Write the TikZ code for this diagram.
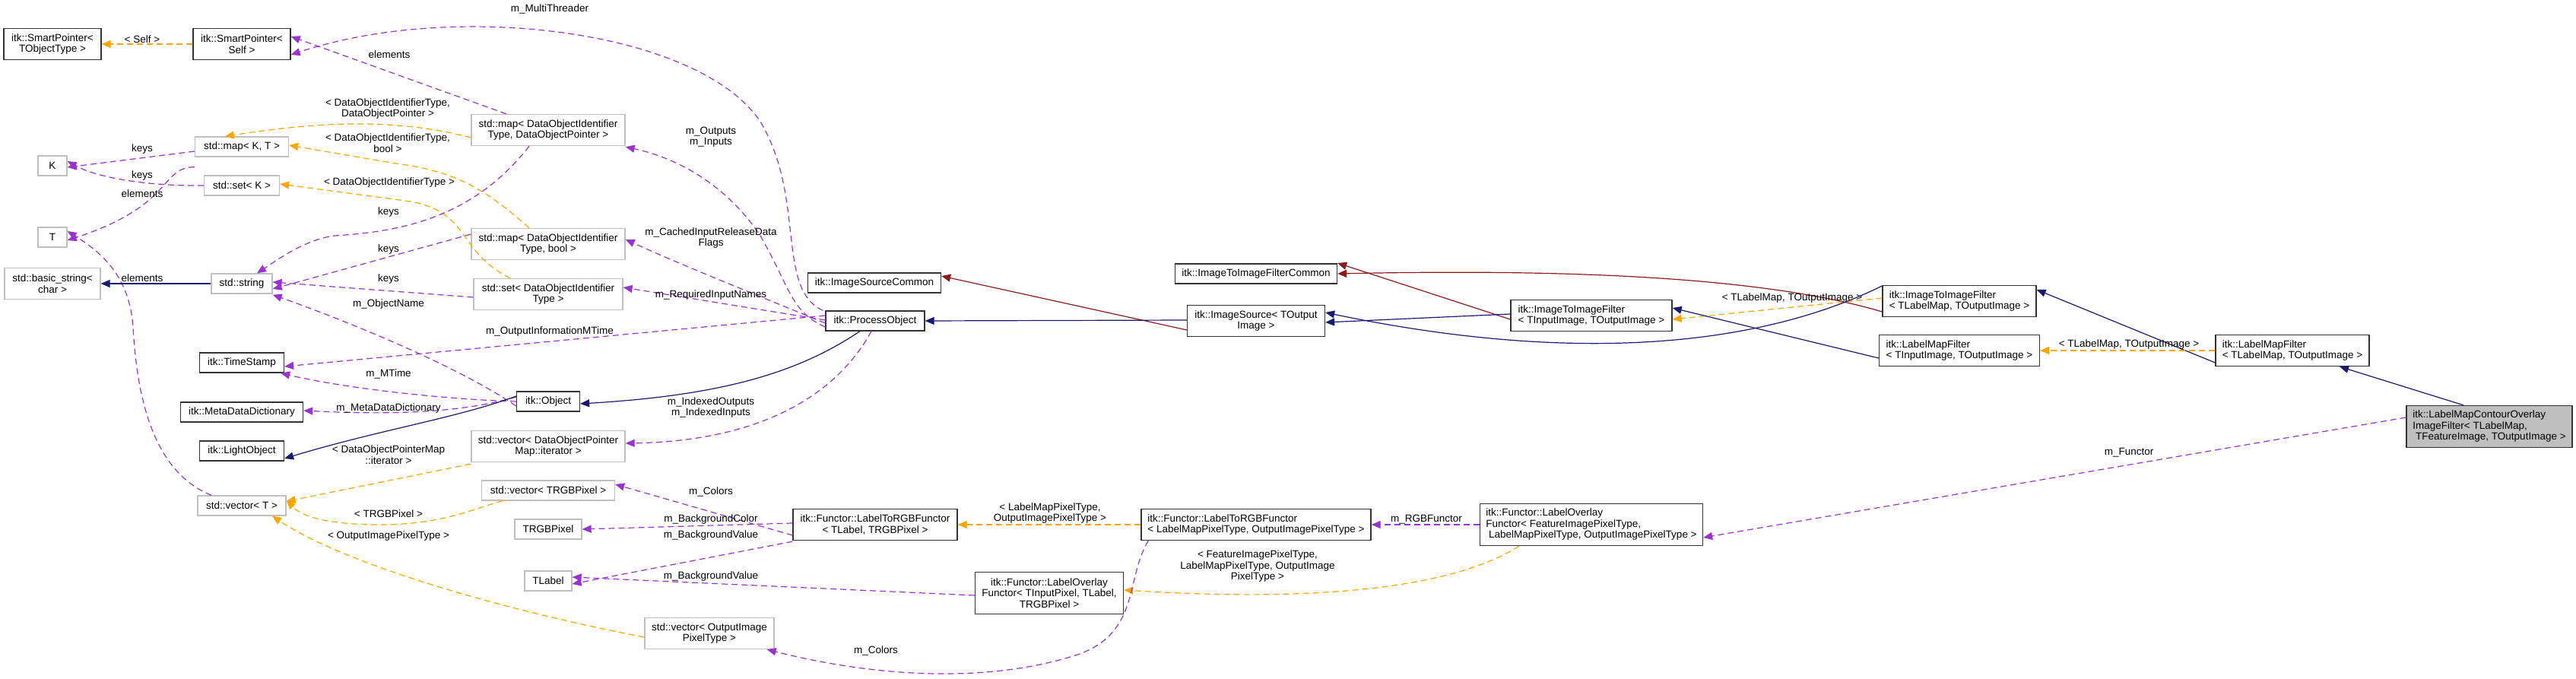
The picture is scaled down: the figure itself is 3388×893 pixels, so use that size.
\documentclass[tikz,border=0pt]{standalone}
\usepackage{fontspec}
\setmainfont{Liberation Sans}
\usetikzlibrary{arrows.meta}
\definecolor{pur}{HTML}{9A32CD}
\definecolor{ora}{HTML}{FFA500}
\definecolor{nav}{HTML}{191970}
\definecolor{red4}{HTML}{8B1A1A}
\definecolor{ug}{HTML}{BFBFBF}
\begin{document}
\begin{tikzpicture}[x=1pt,y=-1pt,
  every node/.style={font=\fontsize{13.5}{14.5}\selectfont},
  box/.style={draw=black!80,line width=1.3pt,inner sep=2pt,align=center,fill=white},
  ubox/.style={box,draw=ug},
  lbox/.style={box,align=left},
  lab/.style={align=center,inner sep=0pt},
  tip/.style={-{Triangle[length=12pt,width=10pt]}},
  use/.style={tip,draw=pur,line width=1.2pt,dash pattern=on 8pt off 5pt},
  tmpl/.style={tip,draw=ora,line width=1.2pt,dash pattern=on 8pt off 5pt},
  inh/.style={tip,draw=nav,line width=1.2pt},
  prv/.style={tip,draw=red4,line width=1.2pt}]
\useasboundingbox (0,0) rectangle (3388,893);
% nodes
\node[box,minimum width=128,minimum height=41] (sptobj) at (69,58) {itk::SmartPointer<\\ TObjectType >};
\node[box,minimum width=128,minimum height=41] (spself) at (318,58) {itk::SmartPointer<\\ Self >};
\node[ubox,minimum width=38,minimum height=26] (K) at (69,218) {K};
\node[ubox,minimum width=38,minimum height=26] (T) at (69,312) {T};
\node[ubox,minimum width=126,minimum height=41] (bstr) at (69,373) {std::basic\_string<\\ char >};
\node[ubox,minimum width=123,minimum height=26] (mapkt) at (318,193) {std::map< K, T >};
\node[ubox,minimum width=99,minimum height=26] (setk) at (318,244) {std::set< K >};
\node[ubox,minimum width=80,minimum height=26] (str) at (318,373) {std::string};
\node[box,minimum width=111,minimum height=26] (ts) at (318,477) {itk::TimeStamp};
\node[box,minimum width=161,minimum height=26] (mdd) at (318,542) {itk::MetaDataDictionary};
\node[box,minimum width=111,minimum height=26] (lo) at (318,593) {itk::LightObject};
\node[ubox,minimum width=116,minimum height=26] (vect) at (318,665) {std::vector< T >};
\node[ubox,minimum width=202,minimum height=41] (mapdop) at (721,171) {std::map< DataObjectIdentifier\\ Type, DataObjectPointer >};
\node[ubox,minimum width=202,minimum height=41] (mapbool) at (721,321) {std::map< DataObjectIdentifier\\ Type, bool >};
\node[ubox,minimum width=196,minimum height=41] (setdoi) at (721,387) {std::set< DataObjectIdentifier\\ Type >};
\node[box,minimum width=83,minimum height=26] (obj) at (721,528) {itk::Object};
\node[ubox,minimum width=202,minimum height=41] (vecdop) at (721,587) {std::vector< DataObjectPointer\\ Map::iterator >};
\node[ubox,minimum width=175,minimum height=26] (vectrgb) at (721,645) {std::vector< TRGBPixel >};
\node[ubox,minimum width=88,minimum height=26] (trgb) at (721,696) {TRGBPixel};
\node[ubox,minimum width=62,minimum height=26] (tlabel) at (721,764) {TLabel};
\node[ubox,minimum width=170,minimum height=41] (vecout) at (933,833) {std::vector< OutputImage\\ PixelType >};
\node[box,minimum width=175,minimum height=26] (isc) at (1150,372) {itk::ImageSourceCommon};
\node[box,minimum width=130,minimum height=26] (po) at (1151,422) {itk::ProcessObject};
\node[box,minimum width=216,minimum height=41] (l2rgbT) at (1151,690) {itk::Functor::LabelToRGBFunctor\\ < TLabel, TRGBPixel >};
\node[box,minimum width=195,minimum height=55] (lovT) at (1380,780) {itk::Functor::LabelOverlay\\ Functor< TInputPixel, TLabel,\\ TRGBPixel >};
\node[box,minimum width=181,minimum height=41] (is) at (1652,422) {itk::ImageSource< TOutput\\ Image >};
\node[box,minimum width=213,minimum height=26] (i2ifc) at (1652,360) {itk::ImageToImageFilterCommon};
\node[lbox,minimum width=302,minimum height=41] (l2rgbL) at (1652,690) {itk::Functor::LabelToRGBFunctor\\ < LabelMapPixelType, OutputImagePixelType >};
\node[lbox,minimum width=293,minimum height=55] (lovF) at (2093,690) {itk::Functor::LabelOverlay\\ Functor< FeatureImagePixelType,\\ \ LabelMapPixelType, OutputImagePixelType >};
\node[lbox,minimum width=212,minimum height=41] (i2ifI) at (2093,415) {itk::ImageToImageFilter\\ < TInputImage, TOutputImage >};
\node[lbox,minimum width=202,minimum height=41] (i2ifL) at (2577,396) {itk::ImageToImageFilter\\ < TLabelMap, TOutputImage >};
\node[lbox,minimum width=211,minimum height=41] (lmfI) at (2577,461) {itk::LabelMapFilter\\ < TInputImage, TOutputImage >};
\node[lbox,minimum width=202,minimum height=41] (lmfL) at (3015,461) {itk::LabelMapFilter\\ < TLabelMap, TOutputImage >};
\node[lbox,fill=ug,minimum width=218,minimum height=55] (contour) at (3274,561) {itk::LabelMapContourOverlay\\ ImageFilter< TLabelMap,\\ \ TFeatureImage, TOutputImage >};
% edges
\draw[tmpl] (spself.west) -- (sptobj.east) node[lab] at (187,52) {< Self >};
\draw[use] ([xshift=-3]po.north west) .. controls (1020,380) and (1060,260) .. (1000,160) .. controls (920,40) and (600,0) .. ([yshift=-14]spself.east) node[lab] at (723,12) {m\_MultiThreader};
\draw[use] ([xshift=-55]mapdop.north) -- ([yshift=10]spself.east) node[lab] at (512,72) {elements};
\draw[tmpl] ([yshift=-10]mapdop.west) .. controls (520,155) and (420,160) .. ([xshift=40]mapkt.north west) node[lab] at (510,143) {< DataObjectIdentifierType,\\ DataObjectPointer >};
\draw[tmpl] ([xshift=-25]mapbool.north) .. controls (640,250) and (600,225) .. (520,215) -- ([yshift=2]mapkt.east) node[lab] at (510,188) {< DataObjectIdentifierType,\\ bool >};
\draw[tmpl] ([xshift=-50]setdoi.north) .. controls (600,330) and (620,280) .. (540,265) -- ([yshift=2]setk.east) node[lab] at (512,240) {< DataObjectIdentifierType >};
\draw[use] ([yshift=-6]mapkt.west) -- ([yshift=-2]K.east) node[lab] at (187,196) {keys};
\draw[use] (setk.west) .. controls (200,245) and (130,235) .. ([yshift=6]K.east) node[lab] at (187,231) {keys};
\draw[use] ([yshift=-13]mapkt.south west) .. controls (210,220) and (230,270) .. ([yshift=-4]T.east) node[lab] at (187,255) {elements};
\draw[use] ([xshift=-40]vect.north) .. controls (200,620) and (180,520) .. (175,430) .. controls (170,360) and (130,330) .. ([yshift=8]T.east) node[lab] at (187,366) {elements};
\draw[inh] (str.west) -- (bstr.east);
\draw[use] ([xshift=-25]mapdop.south) .. controls (620,290) and (520,305) .. (440,310) .. controls (400,315) and (360,345) .. ([xshift=20]str.north) node[lab] at (511,279) {keys};
\draw[use] ([yshift=13]mapbool.west) -- ([yshift=-7]str.east) node[lab] at (511,328) {keys};
\draw[use] ([yshift=-4]setdoi.west) -- ([yshift=2]str.east) node[lab] at (511,367) {keys};
\draw[use] ([yshift=-6]obj.west) .. controls (600,480) and (450,420) .. ([yshift=-1]str.south east) node[lab] at (511,400) {m\_ObjectName};
\draw[use] ([yshift=7]po.west) -- ([yshift=-5]ts.east) node[lab] at (723,436) {m\_OutputInformationMTime};
\draw[use] (obj.west) .. controls (580,525) and (450,510) .. ([xshift=-5]ts.south east) node[lab] at (511,492) {m\_MTime};
\draw[use] ([yshift=6]obj.west) .. controls (600,545) and (500,545) .. ([yshift=2]mdd.east) node[lab] at (511,537) {m\_MetaDataDictionary};
\draw[inh] ([yshift=7]obj.west) .. controls (600,550) and (500,565) .. ([yshift=-10]lo.east);
\draw[inh] ([xshift=-20]po.south) .. controls (1050,490) and (950,520) .. ([yshift=-3]obj.east);
\draw[use] ([xshift=-5]po.south) .. controls (1100,520) and (1000,580) .. ([yshift=4]vecdop.east) node[lab] at (935,536) {m\_IndexedOutputs\\ m\_IndexedInputs};
\draw[tmpl] ([yshift=-2]vecdop.south west) -- ([yshift=-8]vect.north east) node[lab] at (511,598) {< DataObjectPointerMap\\ ::iterator >};
\draw[tmpl] ([xshift=-60]vectrgb.south) .. controls (620,670) and (580,690) .. (500,690) .. controls (440,690) and (400,682) .. ([yshift=7]vect.east) node[lab] at (511,676) {< TRGBPixel >};
\draw[tmpl] ([yshift=-5]vecout.west) .. controls (650,800) and (450,740) .. ([xshift=40]vect.south) node[lab] at (511,705) {< OutputImagePixelType >};
\draw[use] ([yshift=-8]po.west) .. controls (1040,410) and (1040,380) .. (1000,310) .. controls (960,250) and (900,210) .. ([yshift=-1]mapdop.south east) node[lab] at (935,180) {m\_Outputs\\ m\_Inputs};
\draw[use] ([yshift=-3]po.west) .. controls (1000,390) and (900,350) .. ([yshift=6]mapbool.east) node[lab] at (935,313) {m\_CachedInputReleaseData\\ Flags};
\draw[use] ([yshift=1]po.west) -- ([yshift=9]setdoi.east) node[lab] at (935,388) {m\_RequiredInputNames};
\draw[prv] ([yshift=-12]is.west) -- ([yshift=9]isc.east);
\draw[inh] ([yshift=1]is.west) -- (po.east);
\draw[prv] ([yshift=-5]i2ifI.west) -- ([yshift=14]i2ifc.east);
\draw[inh] ([yshift=2]i2ifI.west) -- ([yshift=-2]is.east);
\draw[prv] ([yshift=-14]i2ifL.west) .. controls (2300,358) and (2000,355) .. (i2ifc.east);
\draw[tmpl] ([yshift=4]i2ifL.west) -- ([yshift=-5]i2ifI.east) node[lab] at (2357,392) {< TLabelMap, TOutputImage >};
\draw[inh] ([yshift=20]i2ifL.west) .. controls (2300,462) and (2050,475) .. ([yshift=11]is.east);
\draw[inh] ([yshift=-10]lmfI.west) -- ([yshift=10]i2ifI.east);
\draw[inh] ([yshift=-16]lmfL.west) -- ([yshift=15]i2ifL.east);
\draw[tmpl] (lmfL.west) -- (lmfI.east) node[lab] at (2800,453) {< TLabelMap, TOutputImage >};
\draw[inh] ([xshift=-34]contour.north) -- ([xshift=62]lmfL.south);
\draw[use] ([yshift=12]contour.west) -- ([yshift=-17]lovF.east) node[lab] at (2800,595) {m\_Functor};
\draw[use] (lovF.west) -- (l2rgbL.east) node[lab] at (1876,683) {m\_RGBFunctor};
\draw[tmpl] ([xshift=-95]lovF.south) .. controls (1900,780) and (1700,790) .. ([yshift=4]lovT.east) node[lab] at (1654,745) {< FeatureImagePixelType,\\ LabelMapPixelType, OutputImage\\ PixelType >};
\draw[tmpl] (l2rgbL.west) -- (l2rgbT.east) node[lab] at (1381,675) {< LabelMapPixelType,\\ OutputImagePixelType >};
\draw[use] ([xshift=10]l2rgbL.south west) .. controls (1480,760) and (1500,830) .. (1420,860) .. controls (1300,900) and (1150,890) .. ([xshift=-10]vecout.south east) node[lab] at (1152,856) {m\_Colors};
\draw[use] ([yshift=-14]l2rgbT.west) -- ([yshift=8]vectrgb.east) node[lab] at (935,647) {m\_Colors};
\draw[use] ([yshift=2]l2rgbT.west) -- (trgb.east) node[lab] at (935,683) {m\_BackgroundColor};
\draw[use] ([yshift=-1]l2rgbT.south west) -- ([yshift=-4]tlabel.east) node[lab] at (935,704) {m\_BackgroundValue};
\draw[use] ([yshift=-3]lovT.west) -- ([yshift=5]tlabel.east) node[lab] at (935,758) {m\_BackgroundValue};
\end{tikzpicture}
\end{document}
